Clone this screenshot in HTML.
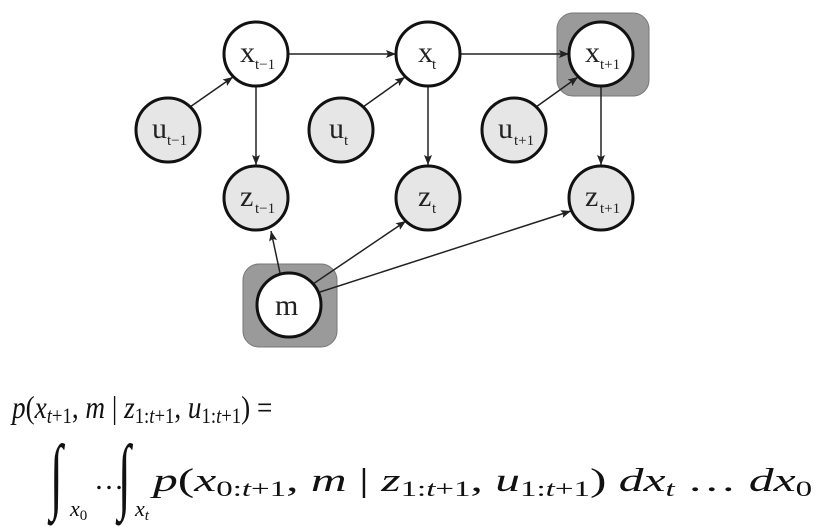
<!DOCTYPE html>
<html><head><meta charset="utf-8"><style>
html,body{margin:0;padding:0;background:#fff;}
svg{display:block;}
text{font-family:"Liberation Serif","DejaVu Serif",serif;}
</style></head><body>
<svg width="824" height="530" viewBox="0 0 824 530" xmlns="http://www.w3.org/2000/svg">
<defs>
<marker id="a" markerWidth="10" markerHeight="8" refX="10" refY="4" orient="auto" markerUnits="userSpaceOnUse">
<path d="M0,0 L10,4 L0,8 L2,4 Z" fill="#222"/>
</marker>
</defs>
<rect x="557" y="13" width="92" height="83" rx="16" fill="#9a9a9a" stroke="#777" stroke-width="1"/>
<rect x="243" y="264" width="94" height="83" rx="16" fill="#9a9a9a" stroke="#777" stroke-width="1"/>
<g stroke="#222" stroke-width="1.5" fill="none" marker-end="url(#a)">
<line x1="288" y1="54" x2="396" y2="54"/>
<line x1="460" y1="54" x2="569" y2="54"/>
<line x1="190" y1="107" x2="233" y2="77"/>
<line x1="363" y1="107" x2="405" y2="77"/>
<line x1="536" y1="107" x2="578" y2="77"/>
<line x1="256" y1="86" x2="256" y2="165"/>
<line x1="428" y1="86" x2="428" y2="165"/>
<line x1="601" y1="86" x2="601" y2="165"/>
<line x1="280" y1="273" x2="271" y2="231"/>
<line x1="313" y1="284" x2="406" y2="221"/>
<line x1="320" y1="292" x2="571" y2="211"/>
</g>
<g stroke="#111" stroke-width="3">
<circle cx="256" cy="54" r="32" fill="#fff"/>
<circle cx="428" cy="54" r="32" fill="#fff"/>
<circle cx="601" cy="54" r="32" fill="#fff"/>
<circle cx="168" cy="130" r="32" fill="#e6e6e6"/>
<circle cx="341" cy="130" r="32" fill="#e6e6e6"/>
<circle cx="514" cy="130" r="32" fill="#e6e6e6"/>
<circle cx="256" cy="198" r="32" fill="#e6e6e6"/>
<circle cx="428" cy="198" r="32" fill="#e6e6e6"/>
<circle cx="601" cy="198" r="32" fill="#e6e6e6"/>
<circle cx="289" cy="305" r="32" fill="#fff"/>
</g>
<g fill="#222">
<g font-size="30">
<text x="240" y="62">x</text><text x="418" y="62">x</text><text x="585" y="62">x</text>
<text x="152" y="138">u</text><text x="329" y="138">u</text><text x="498" y="138">u</text>
<text x="240" y="206">z</text><text x="418" y="206">z</text><text x="585" y="206">z</text>
<text x="275" y="315">m</text>
</g>
<g font-size="15">
<text x="255" y="69">t−1</text><text x="432" y="69">t</text><text x="600" y="69">t+1</text>
<text x="167" y="145">t−1</text><text x="344" y="145">t</text><text x="514" y="145">t+1</text>
<text x="255" y="213">t−1</text><text x="432" y="213">t</text><text x="600" y="213">t+1</text>
</g>
</g>
<g fill="#111">
<text font-size="32" transform="translate(12,418) scale(0.85,1)"><tspan font-style="italic">p</tspan>(<tspan font-style="italic">x</tspan><tspan font-size="22" dy="5"><tspan font-style="italic">t</tspan>+1</tspan><tspan dy="-5">, </tspan><tspan font-style="italic">m</tspan> | <tspan font-style="italic">z</tspan><tspan font-size="22" dy="5">1:<tspan font-style="italic">t</tspan>+1</tspan><tspan dy="-5">, </tspan><tspan font-style="italic">u</tspan><tspan font-size="22" dy="5">1:<tspan font-style="italic">t</tspan>+1</tspan><tspan dy="-5">) =</tspan></text>
<text x="0" y="0" font-size="58" transform="translate(50,503) scale(0.8,1.45)">∫</text>
<text x="70" y="516" font-size="22" font-style="italic">x<tspan font-size="15" font-style="normal" dy="4">0</tspan></text>
<text x="94" y="489" font-size="30">…</text>
<text x="0" y="0" font-size="58" transform="translate(118,503) scale(0.8,1.45)">∫</text>
<text x="135" y="516" font-size="22" font-style="italic">x<tspan font-size="15" dy="4">t</tspan></text>
<text font-size="33" transform="translate(153,491) scale(1.5,1)"><tspan font-style="italic">p</tspan>(<tspan font-style="italic">x</tspan><tspan font-size="22" dy="5">0:<tspan font-style="italic">t</tspan>+1</tspan><tspan dy="-5">, </tspan><tspan font-style="italic">m</tspan> | <tspan font-style="italic">z</tspan><tspan font-size="22" dy="5">1:<tspan font-style="italic">t</tspan>+1</tspan><tspan dy="-5">, </tspan><tspan font-style="italic">u</tspan><tspan font-size="22" dy="5">1:<tspan font-style="italic">t</tspan>+1</tspan><tspan dy="-5">) </tspan><tspan font-style="italic">dx</tspan><tspan font-size="22" font-style="italic" dy="5">t</tspan><tspan dy="-5"> … </tspan><tspan font-style="italic">dx</tspan><tspan font-size="22" dy="5">0</tspan></text>
</g>
</svg>
</body></html>
